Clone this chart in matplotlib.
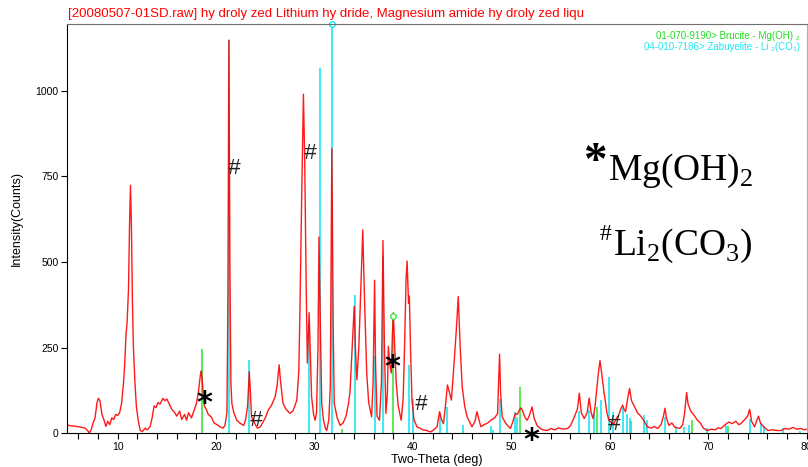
import numpy as np
import matplotlib
matplotlib.use("Agg")
import matplotlib.pyplot as plt
from matplotlib.ticker import FixedLocator, FuncFormatter

plt.rcParams['font.family'] = ['Liberation Sans', 'DejaVu Sans']
plt.rcParams['mathtext.fontset'] = 'custom'
plt.rcParams['mathtext.rm'] = 'Liberation Serif'

two_theta = [4.9, 5.2, 5.5, 5.8, 6.1, 6.4, 6.7, 7.0, 7.1, 7.3, 7.5, 7.7, 7.9, 8.05, 8.2, 8.4, 8.6, 8.8,
             9.0, 9.2, 9.4, 9.6, 9.8, 10.0, 10.2, 10.4, 10.6, 10.7, 10.85, 10.95, 11.1, 11.2, 11.3, 11.4,
             11.5, 11.6, 11.75, 11.9, 12.1, 12.3, 12.5, 12.8, 13.0, 13.3, 13.5, 13.7, 13.9, 14.1, 14.3,
             14.6, 14.8, 15.0, 15.3, 15.5, 15.8, 16.0, 16.3, 16.5, 16.8, 17.0, 17.2, 17.5, 17.8, 18.0,
             18.2, 18.4, 18.5, 18.6, 18.8, 19.0, 19.2, 19.5, 19.8, 20.1, 20.4, 20.7, 20.9, 21.1, 21.2,
             21.3, 21.4, 21.5, 21.6, 21.8, 22.1, 22.4, 22.8, 23.0, 23.2, 23.37, 23.5, 23.6, 23.9, 24.2,
             24.5, 24.8, 25.0, 25.3, 25.6, 26.0, 26.2, 26.4, 26.55, 26.8, 27.1, 27.5, 27.8, 28.0, 28.2,
             28.4, 28.5, 28.7, 28.87, 29.0, 29.15, 29.27, 29.45, 29.55, 29.7, 29.9, 30.06, 30.2, 30.35,
             30.45, 30.6, 30.73, 30.9, 31.1, 31.24, 31.45, 31.6, 31.76, 31.9, 32.0, 32.3, 32.6, 32.9,
             33.2, 33.45, 33.6, 33.8, 34.03, 34.15, 34.3, 34.5, 34.7, 34.9, 35.05, 35.3, 35.5, 35.8,
             35.95, 36.1, 36.2, 36.35, 36.6, 36.8, 36.95, 37.1, 37.25, 37.4, 37.5, 37.65, 37.8, 37.9,
             38.0, 38.15, 38.3, 38.5, 38.8, 39.0, 39.15, 39.3, 39.4, 39.55, 39.63, 39.75, 39.9, 40.1,
             40.4, 40.7, 41.0, 41.4, 41.8, 42.1, 42.45, 42.7, 42.9, 43.1, 43.3, 43.5, 43.7, 43.9, 44.15,
             44.4, 44.6, 44.8, 45.0, 45.25, 45.5, 45.8, 46.0, 46.3, 46.5, 46.7, 46.9, 47.2, 47.6, 47.9,
             48.3, 48.6, 48.7, 48.8, 48.9, 49.06, 49.4, 49.7, 49.9, 50.1, 50.4, 50.6, 50.85, 51.0, 51.2,
             51.4, 51.6, 51.8, 52.1, 52.3, 52.6, 52.9, 53.2, 53.65, 54.0, 54.4, 54.8, 55.2, 55.7, 56.0,
             56.2, 56.4, 56.7, 56.9, 57.1, 57.4, 57.7, 57.9, 58.1, 58.3, 58.5, 58.7, 58.85, 59.0, 59.15,
             59.25, 59.4, 59.5, 59.7, 59.9, 60.2, 60.4, 60.7, 60.9, 61.1, 61.3, 61.45, 61.6, 61.8, 62.0,
             62.2, 62.5, 62.8, 63.2, 63.5, 63.8, 64.2, 64.5, 64.85, 65.2, 65.45, 65.6, 65.75, 66.0, 66.3,
             66.6, 67.1, 67.4, 67.6, 67.8, 67.95, 68.25, 68.5, 68.9, 69.2, 69.5, 69.9, 70.3, 70.7, 71.0,
             71.3, 71.7, 72.1, 72.4, 72.8, 73.1, 73.3, 73.7, 74.0, 74.2, 74.4, 74.7, 74.9, 75.1, 75.3,
             75.6, 76.05, 76.5, 77.0, 77.4, 77.8, 78.2, 78.6, 79.0, 79.4, 79.7, 80.0]
counts = [24, 22, 21, 20, 19, 17, 15, 6, 0, 10, 30, 45, 90, 102, 95, 55, 40, 20,
          35, 25, 45, 40, 55, 52, 60, 88, 150, 195, 290, 320, 420, 600, 724, 600,
          380, 250, 150, 78, 35, 8, 5, 15, 10, 20, 45, 80, 75, 90, 85,
          102, 95, 100, 82, 70, 60, 50, 65, 40, 55, 38, 60, 45, 70, 87,
          120, 170, 182, 150, 80, 70, 55, 48, 30, 25, 19, 15, 23, 60, 400,
          1148, 500, 150, 87, 60, 38, 30, 23, 40, 80, 180, 110, 48, 30, 15,
          19, 35, 45, 68, 80, 107, 140, 200, 150, 87, 70, 58, 65, 80, 97,
          180, 332, 700, 990, 800, 430, 205, 352, 250, 107, 55, 38, 60, 250,
          573, 300, 87, 40, 15, 8, 40, 136, 832, 300, 87, 45, 23, 30,
          50, 87, 120, 235, 371, 250, 156, 250, 420, 594, 420, 176, 90, 48,
          150, 447, 200, 50, 38, 150, 563, 250, 58, 120, 254, 200, 176, 280,
          352, 250, 147, 80, 38, 100, 260, 450, 503, 380, 401, 250, 97, 40,
          19, 15, 10, 8, 4, 10, 19, 63, 40, 28, 80, 141, 120, 97, 195,
          300, 399, 250, 136, 80, 48, 30, 19, 35, 63, 40, 19, 25, 30, 38,
          45, 58, 150, 231, 120, 48, 30, 20, 14, 30, 58, 55, 70, 74, 60,
          45, 38, 50, 77, 45, 23, 15, 10, 8, 14, 10, 16, 12, 14, 22,
          35, 48, 70, 117, 60, 43, 60, 103, 60, 43, 80, 136, 180, 212, 180,
          156, 120, 103, 60, 38, 30, 28, 45, 53, 70, 82, 70, 63, 100, 131,
          95, 78, 60, 48, 35, 19, 15, 20, 14, 25, 50, 73, 45, 23, 30,
          18, 14, 25, 60, 119, 85, 63, 55, 38, 30, 15, 8, 12, 10, 16,
          14, 25, 33, 28, 35, 25, 28, 40, 50, 70, 35, 19, 35, 50, 30,
          20, 8, 10, 8, 8, 14, 12, 17, 12, 14, 10, 12]

# Reference cards (stick patterns)
brucite_pos = [18.55, 32.8, 38.0, 50.85, 58.65, 62.1, 68.3, 72.0]
brucite_int = [247, 12, 342, 136, 78, 35, 40, 22]
zabuyelite_pos = [21.3, 23.37, 29.45, 30.55, 31.76, 34.06, 36.1, 36.95, 39.55, 40.0, 42.7, 43.5,
                  45.05, 47.9, 48.1, 48.8, 50.4, 50.6, 56.9, 57.9, 58.4, 59.15, 59.9, 60.3, 61.3,
                  61.7, 62.0, 63.5, 63.8, 65.6, 66.7, 67.5, 68.0, 69.9, 71.8, 74.2, 75.4, 75.7,
                  77.6, 79.3]
zabuyelite_int = [1148, 215, 318, 1068, 1195, 403, 225, 519, 198, 100, 58, 77,
                  23, 20, 10, 100, 63, 48, 64, 68, 58, 97, 163, 63, 73,
                  55, 45, 53, 40, 48, 19, 19, 25, 15, 23, 43, 30, 20,
                  14, 8]

title = "[20080507-01SD.raw] hy droly zed Lithium hy dride, Magnesium amide hy droly zed liqu"
card_b = "01-070-9190> Brucite - Mg(OH) \u2082"
card_z = "04-010-7186> Zabuyelite - Li \u2082(CO\u2083)"

fig = plt.figure(figsize=(8.08, 4.67), dpi=100)
ax = fig.add_axes([0.0829, 0.0722, 0.9155, 0.8764])

green = '#3de83d'
cyan = '#1ee6f0'
ax.vlines(brucite_pos, 0, brucite_int, color=green, lw=1.2)
ax.vlines(zabuyelite_pos, 0, zabuyelite_int, color=cyan, lw=1.2)
ax.plot(two_theta, counts, color='red', lw=1.0, alpha=0.9)

# 100% markers of each card
i_b = int(np.argmax(brucite_int))
i_z = int(np.argmax(zabuyelite_int))
ax.plot(brucite_pos[i_b], brucite_int[i_b], 'o', mfc='white', mec=green, ms=4, mew=1, clip_on=False)
ax.plot(zabuyelite_pos[i_z], zabuyelite_int[i_z], 'o', mfc='white', mec=cyan, ms=4, mew=1, clip_on=False)

ax.set_xlim(4.85, 80)
ax.set_ylim(0, 1195)
ax.xaxis.set_major_locator(FixedLocator(np.arange(6, 81, 2)))
ax.xaxis.set_major_formatter(FuncFormatter(lambda v, p: f"{int(round(v))}" if round(v) % 10 == 0 else ""))
ax.set_yticks([0, 250, 500, 750, 1000])
ax.tick_params(direction='out', length=4, width=0.8, labelsize=7.5, pad=2)
for s in ['left', 'bottom']:
    ax.spines[s].set_color('black')
ax.spines['top'].set_color('#707070')
ax.spines['right'].set_color('#b0b0b0')

ax.set_xlabel('Two-Theta (deg)', fontsize=9, labelpad=2)
ax.set_ylabel('Intensity(Counts)', fontsize=9)
ax.yaxis.set_label_coords(-0.06, 0.526)

fig.text(68 / 808, 1 - 14 / 467, title, color='red', fontsize=9.5, ha='left', va='center')
fig.text(800 / 808, 1 - 36 / 467, card_b, color='#22dd22', fontsize=7, ha='right', va='center')
fig.text(800 / 808, 1 - 47 / 467, card_z, color=cyan, fontsize=7, ha='right', va='center')

# phase labels
serif = 'Liberation Serif'
fig.text(608 / 808, 1 - 180 / 467, r"Mg(OH)$_2$", fontsize=27, family=serif, ha='left', va='baseline')
fig.text(595 / 808, 1 - 163 / 467, "*", fontsize=34, family=serif, weight='bold', ha='center', va='center')
fig.text(613 / 808, 1 - 255 / 467, r"Li$_2$(CO$_3$)", fontsize=27, family=serif, ha='left', va='baseline')
fig.text(606 / 808, 1 - 235 / 467, "#", fontsize=17, family=serif, ha='center', va='center')

# peak assignment marks
for x, y in [(18.78, 88), (37.95, 191), (52.06, -20)]:
    ax.text(x, y, "*", fontsize=22, weight='bold', family='DejaVu Sans', ha='center', va='center', clip_on=False)
for x, y in [(21.82, 772), (29.53, 816), (24.05, 36), (40.8, 83), (60.38, 27)]:
    ax.text(x, y, "#", fontsize=16, style='italic', ha='center', va='center', color='#222222')

fig.savefig("out.png", dpi=100)
